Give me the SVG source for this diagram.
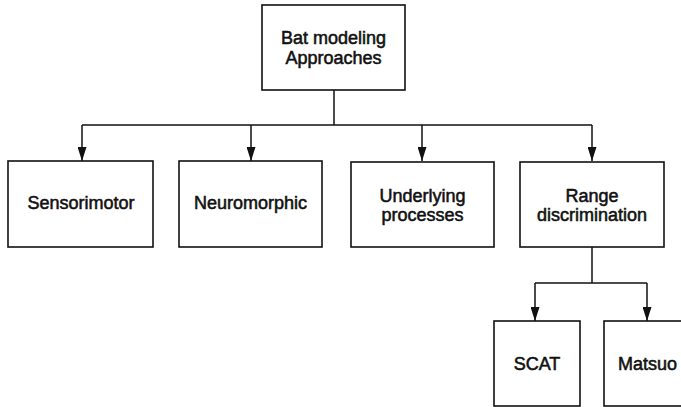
<svg xmlns="http://www.w3.org/2000/svg" width="681" height="407" viewBox="0 0 681 407">
<style>
.box{fill:#fff;stroke:#111;stroke-width:1.6}
.lbl{font-family:"Liberation Sans",Arial,sans-serif;font-size:18px;fill:#111;text-anchor:middle;stroke:#111;stroke-width:0.55}
.ln{fill:none;stroke:#111;stroke-width:1.5}
</style>
<defs>
<marker id="ah" markerWidth="14" markerHeight="9" refX="14" refY="4.5" orient="auto" markerUnits="userSpaceOnUse" viewBox="0 0 14 9">
<path d="M0,0 L14,4.5 L0,9 Z" fill="#111"/>
</marker>
</defs>
<rect width="681" height="407" fill="#fff"/>
<g id="connectors">
<path class="ln" d="M334,90 V125"/>
<path class="ln" d="M82,125 H592"/>
<path class="ln" d="M82,125 V161" marker-end="url(#ah)"/>
<path class="ln" d="M251,125 V161" marker-end="url(#ah)"/>
<path class="ln" d="M422,125 V161" marker-end="url(#ah)"/>
<path class="ln" d="M592,125 V161" marker-end="url(#ah)"/>
<path class="ln" d="M592,247 V283"/>
<path class="ln" d="M535,283 H647"/>
<path class="ln" d="M535,283 V321" marker-end="url(#ah)"/>
<path class="ln" d="M647,283 V321" marker-end="url(#ah)"/>
</g>
<g id="root">
<rect class="box" x="262" y="5" width="143" height="85"/>
<text class="lbl" x="333.5" y="44">Bat modeling</text>
<text class="lbl" x="333.5" y="64">Approaches</text>
</g>
<g id="sensorimotor">
<rect class="box" x="8" y="161" width="145" height="86"/>
<text class="lbl" x="81" y="209">Sensorimotor</text>
</g>
<g id="neuromorphic">
<rect class="box" x="179" y="161" width="143" height="86"/>
<text class="lbl" x="250.5" y="209">Neuromorphic</text>
</g>
<g id="underlying">
<rect class="box" x="351" y="162" width="143" height="85"/>
<text class="lbl" x="422.5" y="202">Underlying</text>
<text class="lbl" x="422.5" y="221">processes</text>
</g>
<g id="range">
<rect class="box" x="520" y="162" width="144" height="85"/>
<text class="lbl" x="592" y="202">Range</text>
<text class="lbl" x="592" y="221">discrimination</text>
</g>
<g id="scat">
<rect class="box" x="494" y="321" width="86" height="85"/>
<text class="lbl" x="537" y="370">SCAT</text>
</g>
<g id="matsuo">
<rect class="box" x="604" y="321" width="86" height="85"/>
<text class="lbl" x="647.5" y="370">Matsuo</text>
</g>
</svg>
